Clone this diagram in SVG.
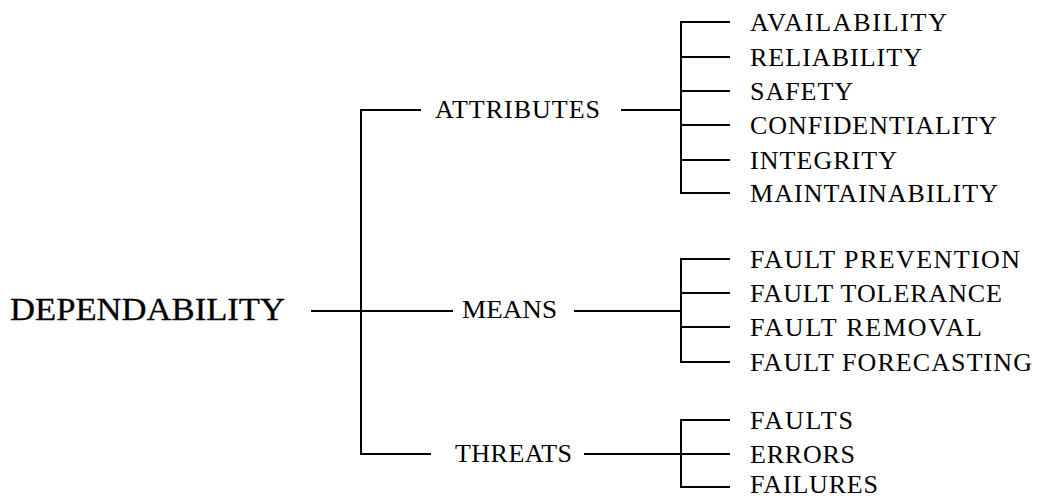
<svg xmlns="http://www.w3.org/2000/svg" width="1039" height="499" viewBox="0 0 1039 499">
<style>
.ln{stroke:#000;stroke-width:2;fill:none;stroke-linecap:square}
.t{font-family:"Liberation Serif","Times New Roman",serif;font-size:26px;fill:#000}
.big{font-size:32px;stroke:#000;stroke-width:0.3}
</style>
<rect width="1039" height="499" fill="#fff"/>
<g id="connectors">
<path class="ln" d="M361 110V454M361 110H420M312 311H452M361 454H430"/>
<path class="ln" d="M622 110H681M681 22V193M681 22H729M681 57H729M681 91H729M681 125H729M681 160H729M681 193H729"/>
<path class="ln" d="M575 311H681M681 259V362M681 259H729M681 293H729M681 327H729M681 362H729"/>
<path class="ln" d="M585 454H681M681 420V487M681 420H729M681 454H729M681 487H729"/>
</g>
<g id="dependability"><text class="t big" x="10" y="320" textLength="275" lengthAdjust="spacingAndGlyphs">DEPENDABILITY</text></g>
<g id="attributes"><text class="t" x="435" y="118" textLength="165" lengthAdjust="spacing">ATTRIBUTES</text></g>
<g id="means"><text class="t" x="462" y="318" textLength="95" lengthAdjust="spacingAndGlyphs">MEANS</text></g>
<g id="threats"><text class="t" x="455" y="462" textLength="117" lengthAdjust="spacing">THREATS</text></g>
<g id="availability"><text class="t" x="750" y="31" textLength="197" lengthAdjust="spacing">AVAILABILITY</text></g>
<g id="reliability"><text class="t" x="750" y="66" textLength="172" lengthAdjust="spacing">RELIABILITY</text></g>
<g id="safety"><text class="t" x="750" y="100" textLength="103" lengthAdjust="spacing">SAFETY</text></g>
<g id="confidentiality"><text class="t" x="750" y="134" textLength="247" lengthAdjust="spacing">CONFIDENTIALITY</text></g>
<g id="integrity"><text class="t" x="750" y="169" textLength="147" lengthAdjust="spacing">INTEGRITY</text></g>
<g id="maintainability"><text class="t" x="750" y="202" textLength="248" lengthAdjust="spacing">MAINTAINABILITY</text></g>
<g id="fault-prevention"><text class="t" x="750" y="268" textLength="270" lengthAdjust="spacing">FAULT PREVENTION</text></g>
<g id="fault-tolerance"><text class="t" x="750" y="302" textLength="252" lengthAdjust="spacing">FAULT TOLERANCE</text></g>
<g id="fault-removal"><text class="t" x="750" y="336" textLength="232" lengthAdjust="spacing">FAULT REMOVAL</text></g>
<g id="fault-forecasting"><text class="t" x="750" y="371" textLength="282" lengthAdjust="spacing">FAULT FORECASTING</text></g>
<g id="faults"><text class="t" x="750" y="429" textLength="103" lengthAdjust="spacing">FAULTS</text></g>
<g id="errors"><text class="t" x="750" y="463" textLength="105" lengthAdjust="spacing">ERRORS</text></g>
<g id="failures"><text class="t" x="750" y="493" textLength="128" lengthAdjust="spacing">FAILURES</text></g>
</svg>
